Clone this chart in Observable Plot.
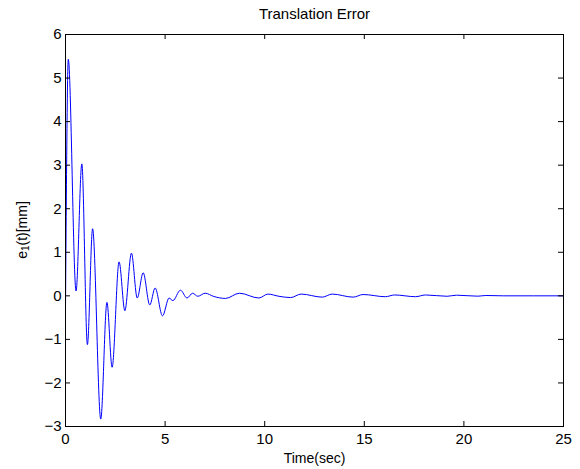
<!DOCTYPE html>
<html>
<head>
<meta charset="utf-8">
<script src="https://cdn.jsdelivr.net/npm/d3@7"></script>
<script src="https://cdn.jsdelivr.net/npm/@observablehq/plot@0.6"></script>
<style>
  html, body { margin: 0; padding: 0; background: white; }
  #chart { width: 580px; height: 469px; }
</style>
</head>
<body>
<div id="chart"></div>
<script>
// Time samples (sec) at extrema / shape points
const time = [0, 0.14, 0.53, 0.82, 1.10, 1.36, 1.77, 2.08, 2.34, 2.69, 2.98, 3.31, 3.60, 3.90, 4.23, 4.50, 4.87, 5.20, 5.39, 5.77, 6.10, 6.38, 6.64, 7.01, 7.45, 8.03, 8.73, 9.71, 10.16, 10.71, 11.30, 11.83, 12.89, 13.39, 14.44, 14.94, 16.06, 16.52, 17.57, 18.07, 19.16, 19.62, 20.70, 21.10, 22.00, 25.00];
// Translation error e1(t) in mm
const error = [-0.27, 5.43, 0.11, 3.03, -1.12, 1.54, -2.83, -0.15, -1.64, 0.78, -0.34, 0.98, -0.05, 0.53, -0.21, 0.18, -0.46, -0.05, -0.11, 0.13, -0.05, 0.06, -0.01, 0.06, -0.015, -0.06, 0.06, -0.05, 0.04, -0.01, -0.04, 0.04, -0.03, 0.04, -0.03, 0.03, -0.02, 0.02, -0.02, 0.02, -0.01, 0.015, -0.008, 0.008, 0, 0];
const xTicks = [0, 5, 10, 15, 20, 25];
const yTicks = [-3, -2, -1, 0, 1, 2, 3, 4, 5, 6];
const title = "Translation Error";
const xLabel = "Time(sec)";

const data = time.map((t, i) => ({t, e: error[i]}));

const W = 580, H = 469, mL = 65, mR = 17, mT = 34, mB = 43;
const fw = W - mL - mR, fh = H - mT - mB;
const tick = 5;

const chart = Plot.plot({
  width: W, height: H,
  marginLeft: mL, marginRight: mR, marginTop: mT, marginBottom: mB,
  x: {domain: [0, 25]},
  y: {domain: [-3, 6]},
  style: {fontFamily: "'Liberation Sans', Arial, Helvetica, sans-serif", fontSize: "14px", background: "white", color: "black"},
  marks: [
    Plot.lineY(data, {x: "t", y: "e", stroke: "#0000ff", strokeWidth: 1, curve: "monotone-x"}),
    Plot.frame({stroke: "black", strokeWidth: 1}),
    Plot.axisX(xTicks, {tickSize: 0, tickPadding: 7, label: null, fontSize: 15}),
    Plot.axisY(yTicks, {tickSize: 0, tickPadding: 4, label: null, fontSize: 15}),
    Plot.ruleX(xTicks, {x: d => d, insetTop: fh - tick, stroke: "black"}),
    Plot.ruleX(xTicks, {x: d => d, insetBottom: fh - tick, stroke: "black"}),
    Plot.ruleY(yTicks, {y: d => d, insetRight: fw - tick, stroke: "black"}),
    Plot.ruleY(yTicks, {y: d => d, insetLeft: fw - tick, stroke: "black"}),
    Plot.text([title], {frameAnchor: "top", dy: -20, fontSize: 15, lineAnchor: "middle"}),
    Plot.text([xLabel], {frameAnchor: "bottom", dy: 32, fontSize: 14, lineAnchor: "middle"})
  ]
});

// y-axis label with subscript
const svg = d3.select(chart);
const yl = svg.append("text")
  .attr("transform", `translate(23,${mT + fh / 2}) rotate(-90)`)
  .attr("text-anchor", "middle")
  .attr("dominant-baseline", "middle")
  .attr("font-size", 14)
  .attr("fill", "black");
yl.append("tspan").text("e");
yl.append("tspan").attr("baseline-shift", "-30%").attr("font-size", 10).text("1");
yl.append("tspan").text("(t)[mm]");

document.getElementById("chart").appendChild(chart);
</script>
</body>
</html>
